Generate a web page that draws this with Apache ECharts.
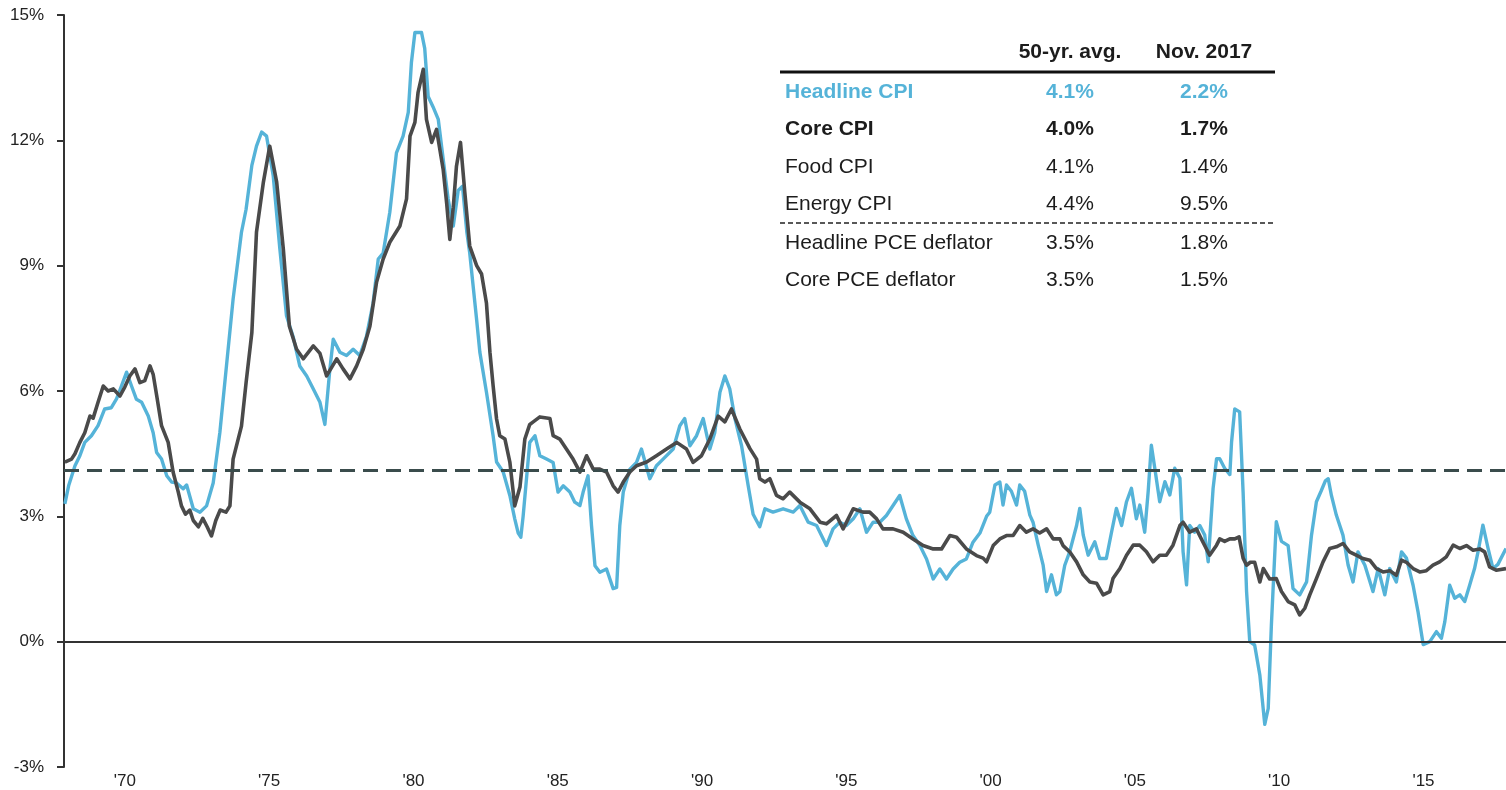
<!DOCTYPE html>
<html>
<head>
<meta charset="utf-8">
<script src="https://cdn.jsdelivr.net/npm/echarts@6/dist/echarts.min.js"></script>
<style>
  html, body { margin: 0; padding: 0; background: #ffffff; }
  #chart { width: 1506px; height: 790px; }
</style>
</head>
<body>
<div id="chart"></div>
<script>
// ---- Data: [year (fractional), % y/y] ----
const headlinePoints = [
  [1967.92,3.3],[1968.05,3.73],[1968.27,4.21],[1968.44,4.45],[1968.61,4.77],[1968.84,4.93],[1969.07,5.17],[1969.3,5.57],[1969.53,5.6],[1969.71,5.81],[1969.88,6.12],[1970.06,6.45],[1970.23,6.12],[1970.4,5.8],[1970.58,5.73],[1970.81,5.4],[1970.98,5.0],[1971.1,4.53],[1971.27,4.37],[1971.45,3.97],[1971.62,3.82],[1971.79,3.8],[1972.02,3.66],[1972.14,3.75],[1972.37,3.18],[1972.6,3.1],[1972.83,3.25],[1973.06,3.8],[1973.29,5.0],[1973.52,6.6],[1973.75,8.2],[1974.04,9.8],[1974.2,10.35],[1974.4,11.4],[1974.56,11.86],[1974.74,12.2],[1974.91,12.1],[1975.14,11.15],[1975.37,9.4],[1975.6,7.8],[1975.83,7.3],
  [1976.06,6.6],[1976.3,6.36],[1976.53,6.05],[1976.76,5.73],[1976.93,5.2],[1977.1,6.5],[1977.22,7.24],[1977.45,6.93],[1977.68,6.85],[1977.91,7.0],[1978.14,6.85],[1978.37,7.3],[1978.6,8.1],[1978.78,9.16],[1978.95,9.3],[1979.18,10.28],[1979.41,11.7],[1979.64,12.1],[1979.82,12.67],[1979.93,13.87],[1980.05,14.58],[1980.28,14.58],[1980.39,14.2],[1980.51,13.05],[1980.68,12.8],[1980.86,12.5],[1981.03,11.55],[1981.2,10.6],[1981.38,9.95],[1981.55,10.8],[1981.7,10.9],[1981.85,9.8],[1981.95,9.3],[1982.19,7.7],[1982.3,6.93],[1982.53,5.97],[1982.76,4.93],[1982.88,4.3],[1983.11,4.06],[1983.34,3.5],[1983.51,2.94],[1983.63,2.6],[1983.72,2.5],[1983.8,3.0],
  [1984.03,4.77],[1984.21,4.93],[1984.38,4.45],[1984.61,4.37],[1984.84,4.29],[1985.01,3.58],[1985.19,3.73],[1985.42,3.58],[1985.59,3.34],[1985.77,3.26],[1985.88,3.58],[1986.05,3.97],[1986.17,2.78],[1986.29,1.82],[1986.46,1.66],[1986.69,1.74],[1986.92,1.27],[1987.04,1.3],[1987.15,2.78],[1987.27,3.58],[1987.5,4.13],[1987.73,4.29],[1987.9,4.61],[1988.19,3.9],[1988.42,4.21],[1988.65,4.37],[1989.0,4.61],[1989.23,5.17],[1989.4,5.34],[1989.58,4.69],[1989.81,4.93],[1990.04,5.34],[1990.27,4.61],[1990.44,5.0],[1990.62,5.97],[1990.79,6.36],[1990.96,6.05],[1991.14,5.34],[1991.37,4.69],[1991.6,3.73],[1991.77,3.05],
  [1992.0,2.75],[1992.18,3.18],[1992.46,3.1],[1992.81,3.18],[1993.16,3.1],[1993.39,3.26],[1993.68,2.86],[1993.97,2.78],[1994.14,2.54],[1994.31,2.3],[1994.54,2.7],[1994.77,2.86],[1995.0,2.78],[1995.24,2.94],[1995.47,3.18],[1995.7,2.62],[1995.93,2.86],[1996.16,2.86],[1996.39,3.02],[1996.62,3.26],[1996.85,3.5],[1997.08,2.94],[1997.31,2.54],[1997.55,2.3],[1997.78,1.98],[1998.01,1.5],[1998.24,1.74],[1998.47,1.5],[1998.7,1.74],[1998.93,1.9],[1999.16,1.98],[1999.39,2.38],[1999.63,2.6],[1999.86,3.0],[1999.97,3.1],
  [2000.15,3.75],[2000.32,3.82],[2000.43,3.27],[2000.55,3.75],[2000.72,3.6],[2000.9,3.27],[2001.01,3.75],[2001.18,3.6],[2001.36,3.03],[2001.47,2.86],[2001.65,2.31],[2001.82,1.83],[2001.94,1.2],[2002.11,1.6],[2002.28,1.12],[2002.4,1.2],[2002.57,1.83],[2002.74,2.15],[2002.98,2.78],[2003.09,3.19],[2003.21,2.55],[2003.38,2.07],[2003.61,2.39],[2003.78,1.99],[2004.01,1.99],[2004.19,2.62],[2004.36,3.19],[2004.54,2.78],[2004.71,3.35],[2004.88,3.67],[2005.05,2.94],[2005.17,3.27],[2005.34,2.62],[2005.46,3.59],[2005.57,4.7],[2005.69,4.15],[2005.86,3.35],[2006.04,3.83],[2006.21,3.51],[2006.38,4.15],[2006.56,3.91],[2006.67,2.15],[2006.79,1.36],[2006.9,2.78],[2007.07,2.62],[2007.25,2.78],[2007.42,2.55],[2007.54,1.91],[2007.71,3.67],[2007.83,4.38],[2007.94,4.38],
  [2008.11,4.15],[2008.29,4.0],[2008.35,4.78],[2008.46,5.57],[2008.63,5.5],[2008.75,3.58],[2008.87,1.2],[2008.98,0.0],[2009.15,-0.08],[2009.33,-0.8],[2009.5,-1.98],[2009.62,-1.6],[2009.73,0.4],[2009.9,2.87],[2010.08,2.4],[2010.31,2.3],[2010.48,1.27],[2010.71,1.12],[2010.95,1.43],[2011.12,2.55],[2011.29,3.35],[2011.45,3.6],[2011.6,3.85],[2011.7,3.9],[2011.81,3.5],[2011.98,3.03],[2012.21,2.55],[2012.39,1.83],[2012.56,1.43],[2012.73,2.15],[2012.97,1.83],[2013.25,1.2],[2013.43,1.75],[2013.66,1.12],[2013.83,1.75],[2014.06,1.43],[2014.24,2.15],[2014.41,2.0],[2014.64,1.35],[2014.81,0.72],[2014.99,-0.07],[2015.22,0.0],[2015.45,0.24],[2015.62,0.08],[2015.74,0.48],[2015.91,1.35],[2016.08,1.04],[2016.26,1.12],[2016.43,0.96],[2016.6,1.35],[2016.77,1.75],[2016.89,2.15],[2017.06,2.79],[2017.24,2.23],[2017.41,1.75],[2017.58,1.85],[2017.86,2.23]
];

const corePoints = [
  [1967.92,4.3],[1968.15,4.37],[1968.27,4.5],[1968.44,4.77],[1968.61,5.0],[1968.79,5.4],[1968.9,5.35],[1969.07,5.73],[1969.25,6.12],[1969.42,6.0],[1969.6,6.05],[1969.83,5.88],[1970.0,6.1],[1970.17,6.36],[1970.35,6.53],[1970.52,6.2],[1970.69,6.25],[1970.87,6.6],[1970.98,6.4],[1971.1,5.9],[1971.27,5.17],[1971.5,4.77],[1971.67,4.06],[1971.85,3.58],[1971.96,3.25],[1972.1,3.05],[1972.25,3.15],[1972.37,2.9],[1972.55,2.75],[1972.7,2.95],[1972.85,2.75],[1973.0,2.53],[1973.15,2.9],[1973.3,3.15],[1973.5,3.1],[1973.64,3.25],[1973.75,4.37],[1974.04,5.16],[1974.2,6.2],[1974.4,7.4],[1974.56,9.8],[1974.8,11.0],[1975.02,11.86],[1975.26,11.0],[1975.49,9.4],[1975.7,7.55],[1975.95,7.0],
  [1976.18,6.77],[1976.53,7.08],[1976.76,6.9],[1976.99,6.36],[1977.34,6.77],[1977.56,6.53],[1977.8,6.29],[1978.03,6.6],[1978.26,7.0],[1978.49,7.55],[1978.72,8.6],[1978.95,9.16],[1979.18,9.56],[1979.53,9.95],[1979.76,10.6],[1979.88,12.1],[1980.05,12.43],[1980.16,13.15],[1980.34,13.7],[1980.45,12.5],[1980.63,11.95],[1980.8,12.26],[1981.03,11.3],[1981.15,10.5],[1981.26,9.63],[1981.38,10.4],[1981.49,11.38],[1981.63,11.95],[1981.78,10.75],[1981.95,9.47],[1982.19,9.0],[1982.36,8.8],[1982.53,8.1],[1982.65,6.93],[1982.76,6.13],[1982.88,5.33],[1982.99,4.93],[1983.17,4.85],[1983.34,4.3],[1983.51,3.25],[1983.69,3.7],[1983.86,4.85],
  [1984.03,5.2],[1984.15,5.26],[1984.38,5.38],[1984.73,5.34],[1984.84,4.93],[1985.07,4.85],[1985.3,4.61],[1985.53,4.37],[1985.77,4.06],[1986.0,4.45],[1986.23,4.13],[1986.46,4.13],[1986.69,4.06],[1986.92,3.73],[1987.09,3.58],[1987.27,3.82],[1987.5,4.06],[1987.73,4.21],[1988.08,4.3],[1988.42,4.45],[1988.77,4.61],[1989.12,4.77],[1989.46,4.61],[1989.69,4.29],[1989.98,4.45],[1990.27,4.85],[1990.56,5.4],[1990.79,5.26],[1991.02,5.57],[1991.31,5.09],[1991.66,4.62],[1991.89,4.37],
  [1992.0,3.9],[1992.18,3.82],[1992.35,3.9],[1992.58,3.5],[1992.81,3.42],[1993.04,3.58],[1993.39,3.34],[1993.74,3.18],[1994.09,2.86],[1994.31,2.82],[1994.66,3.02],[1994.89,2.7],[1995.24,3.18],[1995.58,3.1],[1995.81,3.1],[1996.05,2.94],[1996.27,2.7],[1996.62,2.7],[1996.97,2.62],[1997.31,2.46],[1997.66,2.3],[1998.01,2.22],[1998.3,2.22],[1998.59,2.54],[1998.82,2.5],[1999.16,2.22],[1999.51,2.06],[1999.74,2.0],[1999.86,1.91],
  [2000.09,2.3],[2000.32,2.46],[2000.55,2.54],[2000.78,2.54],[2001.01,2.78],[2001.24,2.62],[2001.47,2.7],[2001.7,2.6],[2001.94,2.7],[2002.17,2.46],[2002.4,2.46],[2002.51,2.3],[2002.74,2.15],[2002.98,1.91],[2003.21,1.6],[2003.44,1.43],[2003.67,1.4],[2003.9,1.12],[2004.13,1.2],[2004.24,1.51],[2004.48,1.75],[2004.71,2.07],[2004.94,2.31],[2005.17,2.31],[2005.4,2.15],[2005.63,1.91],[2005.86,2.07],[2006.09,2.07],[2006.32,2.31],[2006.56,2.78],[2006.67,2.86],[2006.9,2.62],[2007.13,2.7],[2007.36,2.38],[2007.59,2.07],[2007.83,2.31],[2007.94,2.46],
  [2008.11,2.4],[2008.29,2.46],[2008.46,2.46],[2008.61,2.51],[2008.75,2.0],[2008.87,1.83],[2009.0,1.9],[2009.15,1.9],[2009.33,1.43],[2009.45,1.75],[2009.67,1.5],[2009.9,1.51],[2010.08,1.2],[2010.31,0.96],[2010.54,0.88],[2010.71,0.64],[2010.89,0.8],[2011.06,1.12],[2011.29,1.51],[2011.52,1.91],[2011.75,2.23],[2011.98,2.27],[2012.21,2.35],[2012.44,2.15],[2012.67,2.07],[2012.9,1.99],[2013.14,1.95],[2013.37,1.75],[2013.6,1.67],[2013.83,1.7],[2014.06,1.59],[2014.24,1.95],[2014.41,1.9],[2014.64,1.75],[2014.87,1.67],[2015.1,1.7],[2015.33,1.83],[2015.56,1.91],[2015.79,2.03],[2016.03,2.31],[2016.26,2.23],[2016.49,2.3],[2016.72,2.19],[2016.95,2.22],[2017.12,2.15],[2017.29,1.79],[2017.52,1.71],[2017.86,1.75]
];

const headlineAverage = 4.1;
const xTickYears = [1970, 1975, 1980, 1985, 1990, 1995, 2000, 2005, 2010, 2015];
const yTickValues = [-3, 0, 3, 6, 9, 12, 15];

const tableHeaders = ['50-yr. avg.', 'Nov. 2017'];
const tableNames = ['Headline CPI', 'Core CPI', 'Food CPI', 'Energy CPI', 'Headline PCE deflator', 'Core PCE deflator'];
const tableAvg = ['4.1%', '4.0%', '4.1%', '4.4%', '3.5%', '3.5%'];
const tableNov = ['2.2%', '1.7%', '1.4%', '9.5%', '1.8%', '1.5%'];

// ---- Styles ----
const FONT = '"Liberation Sans", Arial, Helvetica, sans-serif';
const BLUE = '#55b3d8';
const DARK = '#4a4a4a';
const TEXT = '#1c1c1c';

// ---- Table as graphic elements ----
const rowY = [92, 129.5, 167, 204.5, 243, 280];
const colNameX = 785, colAvgX = 1070, colNovX = 1204;
const tableGraphic = [];
tableGraphic.push({ type: 'text', x: colAvgX, y: 52, style: { text: tableHeaders[0], font: 'bold 21px ' + FONT, fill: TEXT, align: 'center', verticalAlign: 'middle' } });
tableGraphic.push({ type: 'text', x: colNovX, y: 52, style: { text: tableHeaders[1], font: 'bold 21px ' + FONT, fill: TEXT, align: 'center', verticalAlign: 'middle' } });
tableGraphic.push({ type: 'line', shape: { x1: 780, y1: 72, x2: 1275, y2: 72 }, style: { stroke: '#111', lineWidth: 3 } });
tableGraphic.push({ type: 'line', shape: { x1: 780, y1: 223, x2: 1275, y2: 223 }, style: { stroke: '#222', lineWidth: 1.5, lineDash: [5, 3] } });
tableNames.forEach((name, i) => {
  const color = i === 0 ? BLUE : TEXT;
  const weight = i <= 1 ? 'bold ' : '';
  tableGraphic.push({ type: 'text', x: colNameX, y: rowY[i], style: { text: name, font: weight + '21px ' + FONT, fill: color, align: 'left', verticalAlign: 'middle' } });
  tableGraphic.push({ type: 'text', x: colAvgX, y: rowY[i], style: { text: tableAvg[i], font: weight + '21px ' + FONT, fill: color, align: 'center', verticalAlign: 'middle' } });
  tableGraphic.push({ type: 'text', x: colNovX, y: rowY[i], style: { text: tableNov[i], font: weight + '21px ' + FONT, fill: color, align: 'center', verticalAlign: 'middle' } });
});

const chart = echarts.init(document.getElementById('chart'), null, { renderer: 'canvas' });
chart.setOption({
  animation: false,
  backgroundColor: '#ffffff',
  grid: { left: 64, right: 0, top: 15, bottom: 22, containLabel: false },
  xAxis: {
    type: 'value',
    min: 1967.89,
    max: 2017.86,
    axisLine: { show: false },
    axisTick: { show: false },
    splitLine: { show: false },
    axisLabel: {
      customValues: xTickYears,
      formatter: v => "'" + String(Math.round(v)).slice(2),
      fontFamily: FONT, fontSize: 17, color: '#222', margin: 6
    }
  },
  yAxis: {
    type: 'value',
    min: -3, max: 15, interval: 3,
    axisLine: { show: true, lineStyle: { color: '#333', width: 2 } },
    axisTick: { show: true, length: 7, lineStyle: { color: '#333', width: 2 }, customValues: yTickValues },
    splitLine: { show: false },
    axisLabel: {
      customValues: yTickValues,
      formatter: v => v + '%',
      fontFamily: FONT, fontSize: 17, color: '#222', margin: 20
    }
  },
  graphic: tableGraphic,
  series: [
    {
      name: 'Headline CPI', type: 'line', data: headlinePoints,
      showSymbol: false, symbol: 'none',
      lineStyle: { color: BLUE, width: 3.4, join: 'round' },
      z: 2,
      markLine: {
        silent: true, symbol: 'none', label: { show: false },
        data: [
          { yAxis: 0, lineStyle: { type: 'solid', color: '#333', width: 2 } }
        ]
      }
    },
    {
      name: 'Core CPI', type: 'line', data: corePoints,
      showSymbol: false, symbol: 'none',
      lineStyle: { color: DARK, width: 3.6, join: 'round' },
      z: 3,
      markLine: {
        silent: true, symbol: 'none', label: { show: false },
        data: [
          { yAxis: headlineAverage, lineStyle: { type: [15, 8], color: '#3a4c4c', width: 3 } }
        ]
      }
    }
  ]
});
</script>
</body>
</html>
